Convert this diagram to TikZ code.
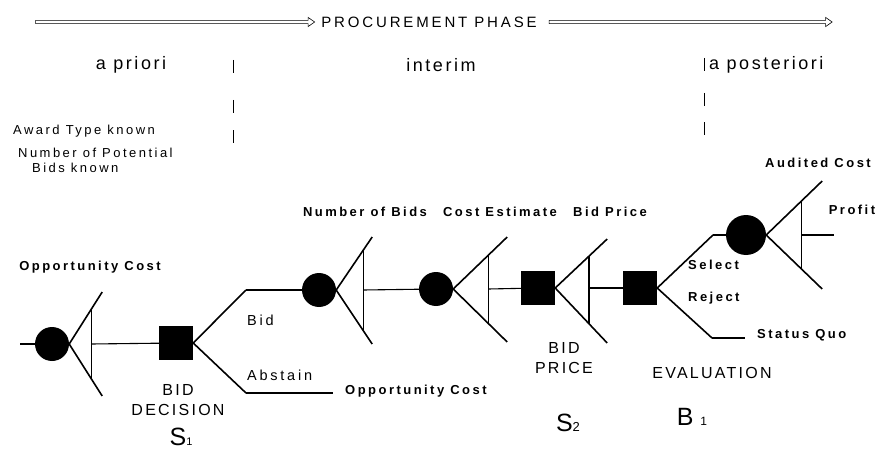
\documentclass[tikz,border=0pt]{standalone}
\usepackage{fontspec}
\setmainfont{Liberation Sans}
\newfontfamily\spaced[LetterSpace=19]{Liberation Sans}
\newfontfamily\loose[LetterSpace=14]{Liberation Sans}
\usetikzlibrary{shapes.arrows,positioning,calc}

\begin{document}
\begin{tikzpicture}[
    x=1pt,
    y=-1pt,
    chance/.style={
        circle,
        fill=black,
        minimum size=34pt,
        inner sep=0pt
    },
    decide/.style={
        rectangle,
        fill=black,
        minimum size=34pt,
        inner sep=0pt
    },
    branch/.style={line width=1.6pt},
    tie/.style={line width=1.1pt},
    divider/.style={line width=1pt},
    phasearrow/.style={
        single arrow,
        draw,
        line width=0.6pt,
        inner sep=1.3pt,
        single arrow head extend=3pt,
        single arrow tip angle=70
    },
    stage/.style={font=\loose\fontsize{18}{20}\selectfont, inner sep=0pt},
    known/.style={font=\spaced\fontsize{13}{15}\selectfont, inner sep=0pt},
    tag/.style={font=\spaced\bfseries\fontsize{13}{14}\selectfont, inner sep=0pt},
    choice/.style={font=\spaced\fontsize{14.5}{16}\selectfont, inner sep=0pt, anchor=west},
    caption/.style={font=\loose\fontsize{16}{20}\selectfont, align=center, inner sep=0pt},
    player/.style={font=\fontsize{25}{25}\selectfont, inner sep=0pt}
]
\useasboundingbox (0,0) rectangle (879,452);

% Phase header
\node [font=\spaced\fontsize{15}{16}\selectfont, inner sep=0pt] (phase) at (429,22) {PROCUREMENT PHASE};
\node [phasearrow, minimum height=279pt, left=6pt of phase] (pre) {};
\node [phasearrow, minimum height=283pt, right=12pt of phase] (post) {};

\node [stage] (apriori) at (131,65) {a priori};
\node [stage] (interim) at (441,65) {interim};
\node [stage, anchor=west] (aposteriori) at (709,65) {a posteriori};
\foreach \x/\t in {233/60, 233/100, 233/130, 704/58, 704/93, 704/122}
    \draw [divider] (\x,\t) -- ++(0,13);

\node [known, anchor=west] (award) at (13,131) {Award Type known};
\node [known, anchor=west, align=left] (potential) at (18,160) {Number of Potential\\\hspace*{14pt}Bids known};

% Nodes
\coordinate (start) at (20,344);
\node [chance] (c0) at (52,344) {};
\node [decide] (s1) at (176,343) {};
\node [chance] (c1) at (319,290) {};
\node [chance] (c2) at (436,289) {};
\node [decide] (s2) at (538,288) {};
\node [decide] (s3) at (640,288) {};
\node [chance, minimum size=40pt] (c3) at (746,235) {};

\coordinate (bidknee) at (246,290);
\coordinate (abstainknee) at (246,393);
\coordinate (abstainend) at (333,393);
\coordinate (selectknee) at (713,235);
\coordinate (rejectknee) at (712,338);
\coordinate (rejectend) at (745,338);
\coordinate (payoff) at (834,235);

% Fans of outcomes
\foreach \n/\dx/\up/\down/\f in {c0/33/52/52/0.67, c1/36/53/54/0.75, c2/54/52/53/0.65, s2/52/49/55/0.65, c3/56/54/54/0.625} {
    \coordinate (\n-up) at ($(\n.east)+(\dx,-\up)$);
    \coordinate (\n-down) at ($(\n.east)+(\dx,\down)$);
    \coordinate (\n-bar) at ($(\n.east)+({\f*\dx},0)$);
    \draw [branch] (\n-up) -- (\n.east) -- (\n-down);
    \draw [tie] ($(\n.east)!\f!(\n-up)$) -- ($(\n.east)!\f!(\n-down)$);
}

% Edges
\draw [tie] (start) -- (c0);
\draw [tie] (c0-bar) -- (s1);
\draw [branch] (s1.east) -- (bidknee);
\draw [tie] (bidknee) -- (c1);
\draw [branch] (s1.east) -- (abstainknee);
\draw [tie] (abstainknee) -- (abstainend);
\draw [tie] (c1-bar) -- (c2);
\draw [tie] (c2-bar) -- (s2);
\draw [tie] (s2-bar) -- (s3);
\draw [branch] (s3.east) -- (selectknee);
\draw [tie] (selectknee) -- (c3);
\draw [branch] (s3.east) -- (rejectknee);
\draw [tie] (rejectknee) -- (rejectend);
\draw [tie] (c3-bar) -- (payoff);

% Labels
\node [tag] (opp) at (90,267) {Opportunity Cost};
\node [tag] (numbids) at (365,212) {Number of Bids};
\node [tag] (estimate) at (500,212) {Cost Estimate};
\node [tag] (price) at (610,212) {Bid Price};
\node [tag] (audited) at (818,163) {Audited Cost};
\node [tag] (profit) at (852,210) {Profit};

\node [choice] (bid) at (247,320) {Bid};
\node [choice] (abstain) at (247,375) {Abstain};
\node [tag, anchor=west] (oppend) at (345,391) {Opportunity Cost};
\node [tag, anchor=west] (select) at (688,265) {Select};
\node [tag, anchor=west] (reject) at (688,298) {Reject};
\node [tag, anchor=west] (quo) at (757,335) {Status Quo};

\node [caption] (biddecision) at (178,400) {BID\\DECISION};
\node [caption] (bidprice) at (564,358) {BID\\PRICE};
\node [caption] (evaluation) at (712,373) {EVALUATION};

\node [player] (sone) at (181,437) {S{\fontsize{11}{11}\selectfont 1}};
\node [player] (stwo) at (568,423) {S{\fontsize{13}{13}\selectfont 2}};
\node [player] (bone) at (692,417) {B {\fontsize{12}{12}\selectfont 1}};

\end{tikzpicture}
\end{document}
